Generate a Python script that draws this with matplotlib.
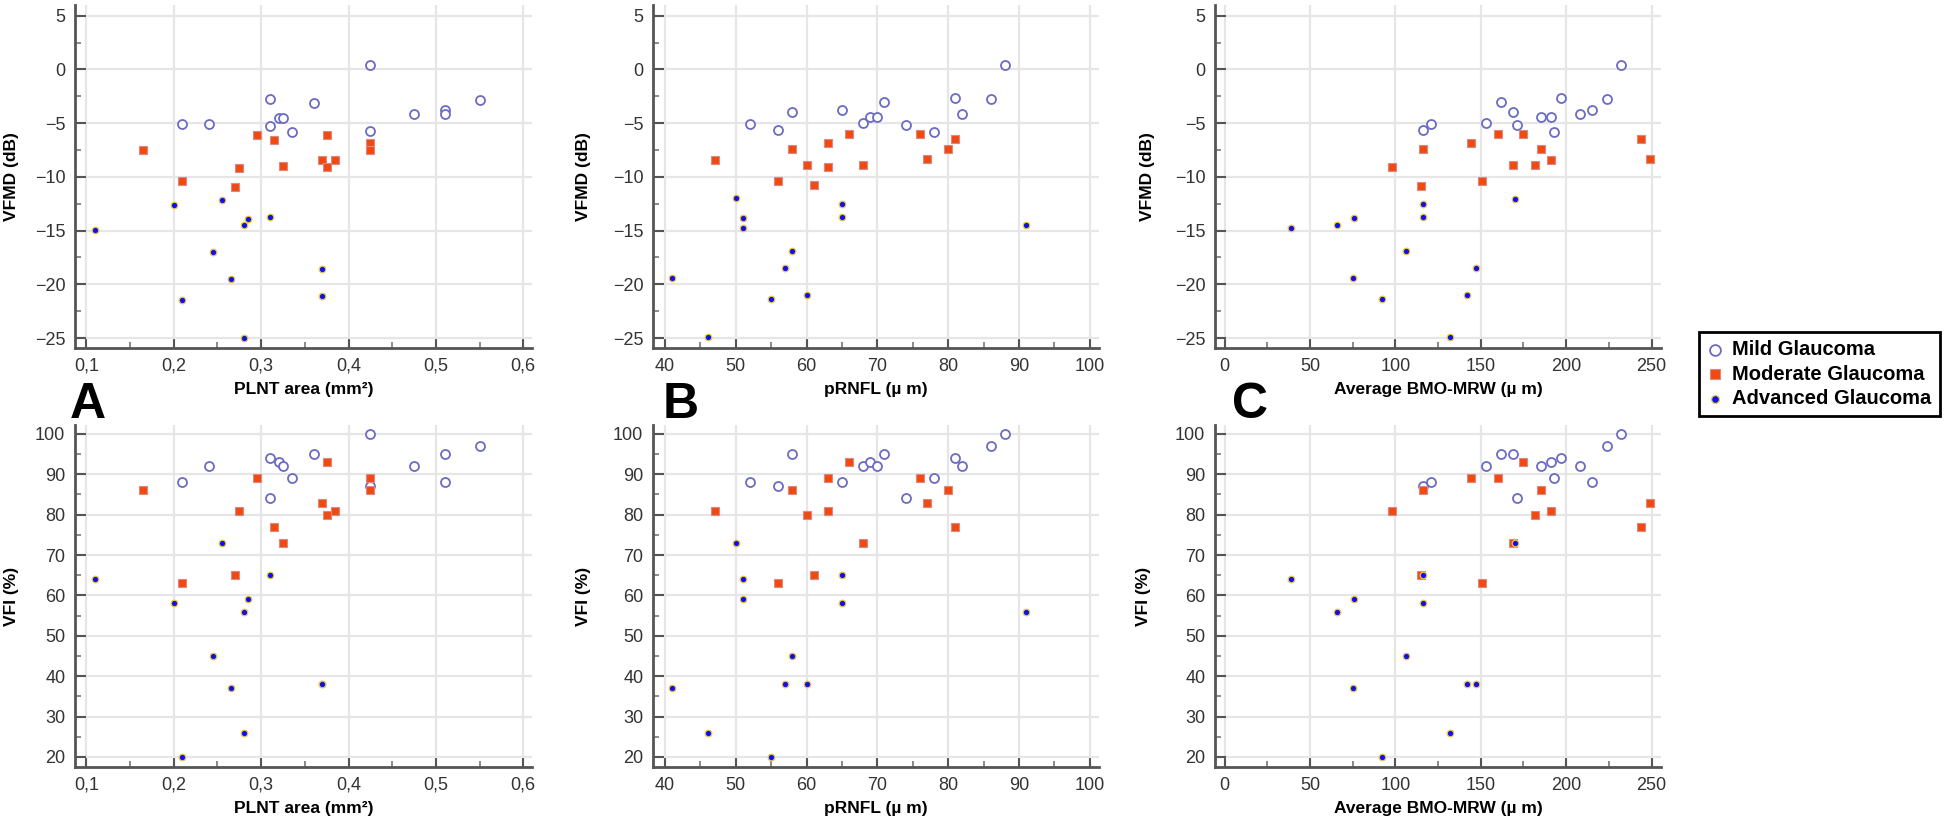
import numpy as np
import matplotlib
matplotlib.use("Agg")
import matplotlib.pyplot as plt
from matplotlib.ticker import MultipleLocator, AutoMinorLocator, FuncFormatter

plt.rcParams['font.family'] = ['Liberation Sans', 'DejaVu Sans']

# ---- data ----
# A: PLNT area (mm2)
plnt_mild = [0.21, 0.24, 0.31, 0.31, 0.32, 0.325, 0.335, 0.36, 0.425, 0.425, 0.475, 0.51, 0.51, 0.55]
plnt_mod = [0.165, 0.21, 0.27, 0.275, 0.295, 0.315, 0.325, 0.37, 0.375, 0.375, 0.385, 0.425, 0.425]
plnt_adv = [0.11, 0.2, 0.21, 0.245, 0.255, 0.265, 0.28, 0.285, 0.28, 0.31, 0.37, 0.37]
plnt_vfmd_mild = [-5.1, -5.05, -2.76, -5.24, -4.49, -4.49, -5.86, -3.1, 0.4, -5.73, -4.18, -3.78, -4.15, -2.85]
plnt_vfmd_mod = [-7.5, -10.4, -10.9, -9.2, -6.07, -6.57, -8.95, -8.43, -6.07, -9.05, -8.46, -6.8, -7.5]
plnt_vfmd_adv = [-14.9, -12.64, -21.47, -17.0, -12.14, -19.5, -14.5, -13.9, -25.0, -13.75, -18.6, -21.07]
plnt_vfi_mild = [88, 92, 94, 84, 93, 92, 89, 95, 100, 87, 92, 95, 88, 97]
plnt_vfi_mod = [86, 63, 65, 81, 89, 77, 73, 83, 93, 80, 81, 89, 86]
plnt_vfi_adv = [64, 58, 20, 45, 73, 37, 56, 59, 26, 65, 38, 38]

# B: pRNFL (um)
rnfl_mild = [52, 56, 58, 65, 68, 69, 70, 71, 74, 78, 81, 82, 86, 88]
rnfl_mod = [47, 56, 58, 60, 61, 63, 63, 66, 68, 76, 77, 80, 81]
rnfl_adv = [41, 46, 50, 51, 51, 55, 57, 58, 60, 65, 65, 91]
rnfl_vfmd_mild = [-5.1, -5.66, -3.99, -3.73, -5.03, -4.4, -4.4, -3.0, -5.16, -5.82, -2.69, -4.15, -2.78, 0.44]
rnfl_vfmd_mod = [-8.39, -10.35, -7.4, -8.92, -10.8, -6.87, -9.05, -6.0, -8.86, -6.0, -8.3, -7.4, -6.49]
rnfl_vfmd_adv = [-19.4, -24.9, -12.0, -14.8, -13.8, -21.36, -18.5, -16.9, -21.0, -12.5, -13.7, -14.5]
rnfl_vfi_mild = [88, 87, 95, 88, 92, 93, 92, 95, 84, 89, 94, 92, 97, 100]
rnfl_vfi_mod = [81, 63, 86, 80, 65, 89, 81, 93, 73, 89, 83, 86, 77]
rnfl_vfi_adv = [37, 26, 73, 64, 59, 20, 38, 45, 38, 65, 58, 56]

# C: average BMO-MRW (um)
mrw_mild = [116, 121, 153, 162, 169, 171, 185, 191, 193, 197, 208, 215, 224, 232]
mrw_mod = [98, 116, 115, 144, 151, 160, 169, 175, 182, 185, 191, 244, 249]
mrw_adv = [39, 66, 76, 75, 92, 106, 116, 116, 132, 142, 147, 170]
mrw_vfmd_mild = [-5.66, -5.1, -5.0, -3.0, -3.99, -5.16, -4.4, -4.4, -5.82, -2.69, -4.15, -3.73, -2.78, 0.44]
mrw_vfmd_mod = [-9.05, -7.44, -10.82, -6.87, -10.35, -6.0, -8.86, -6.0, -8.92, -7.44, -8.39, -6.52, -8.29]
mrw_vfmd_adv = [-14.8, -14.5, -13.8, -19.4, -21.4, -16.9, -12.5, -13.7, -24.9, -21.0, -18.5, -12.06]
mrw_vfi_mild = [87, 88, 92, 95, 95, 84, 92, 93, 89, 94, 92, 88, 97, 100]
mrw_vfi_mod = [81, 86, 65, 89, 63, 89, 73, 93, 80, 86, 81, 77, 83]
mrw_vfi_adv = [64, 56, 59, 37, 20, 45, 65, 58, 26, 38, 38, 73]

group_labels = ['Mild Glaucoma', 'Moderate Glaucoma', 'Advanced Glaucoma']
xlabels = ['PLNT area (mm²)', 'pRNFL (µ m)', 'Average BMO-MRW (µ m)']
ylabels = ['VFMD (dB)', 'VFI (%)']
panel_letters = ['A', 'B', 'C']

columns = [
    (plnt_mild, plnt_mod, plnt_adv,
     (plnt_vfmd_mild, plnt_vfmd_mod, plnt_vfmd_adv),
     (plnt_vfi_mild, plnt_vfi_mod, plnt_vfi_adv)),
    (rnfl_mild, rnfl_mod, rnfl_adv,
     (rnfl_vfmd_mild, rnfl_vfmd_mod, rnfl_vfmd_adv),
     (rnfl_vfi_mild, rnfl_vfi_mod, rnfl_vfi_adv)),
    (mrw_mild, mrw_mod, mrw_adv,
     (mrw_vfmd_mild, mrw_vfmd_mod, mrw_vfmd_adv),
     (mrw_vfi_mild, mrw_vfi_mod, mrw_vfi_adv)),
]

# ---- layout (pixel positions from the reference) ----
W, H = 1946, 825
col_px = [(75, 532), (653, 1099), (1215, 1661)]
row_px = [(5, 348), (425, 767)]
xlims = [(0.087, 0.61), (38.3, 101.3), (-5.6, 255.5)]
xsteps = [0.1, 10, 50]
xticks0 = [0.1, 40, 0]
ylims = [(-25.93, 6.0), (17.5, 102.2)]
ysteps = [5, 10]
ylab_x = [[19, 591, 1155], [19, 591, 1151]]

styles = [
    dict(marker='o', s=42, facecolors='white', edgecolors='#6b6bc4', linewidths=1.3),
    dict(marker='s', s=38, facecolors='#f24a0e', edgecolors='#d88a8a', linewidths=0.8),
    dict(marker='o', s=22, facecolors='#0a14e6', edgecolors='#f0c24a', linewidths=0.9),
]

fig = plt.figure(figsize=(W / 100, H / 100), dpi=100)
handles = []

for r in range(2):
    for c in range(3):
        l, rr = col_px[c]
        t, b = row_px[r]
        ax = fig.add_axes([l / W, 1 - b / H, (rr - l) / W, (b - t) / H])
        xm, xo, xa, vfmd, vfi = columns[c]
        ys = vfmd if r == 0 else vfi
        hs = []
        for xs, yv, st, lab in zip((xm, xo, xa), ys, styles, group_labels):
            hs.append(ax.scatter(xs, yv, label=lab, zorder=3, **st))
        if r == 0 and c == 0:
            handles = hs

        ax.set_xlim(*xlims[c])
        ax.set_ylim(*ylims[r])
        x0 = xticks0[c]
        ax.set_xticks(np.arange(x0, xlims[c][1] + 1e-9, xsteps[c]))
        ax.yaxis.set_major_locator(MultipleLocator(ysteps[r]))
        ax.xaxis.set_minor_locator(AutoMinorLocator(2))
        ax.yaxis.set_minor_locator(AutoMinorLocator(2))
        if c == 0:
            ax.xaxis.set_major_formatter(FuncFormatter(lambda v, p: f"{v:.1f}".replace('.', ',')))

        for s in ['top', 'right']:
            ax.spines[s].set_visible(False)
        for s in ['left', 'bottom']:
            ax.spines[s].set_color('#555555')
            ax.spines[s].set_linewidth(2)

        ax.tick_params(which='major', direction='in', length=8, width=1.5, color='#555555',
                       labelsize=13, labelcolor='#333333', pad=7)
        ax.tick_params(which='minor', direction='in', length=4, width=1.2, color='#777777')
        ax.grid(True, which='major', color='#e6e6e6', lw=1.6)
        ax.set_axisbelow(True)

        ax.set_xlabel(xlabels[c], fontsize=12.5, fontweight='bold', labelpad=5)
        ax.set_ylabel(ylabels[r], fontsize=12.5, fontweight='bold')
        ax.yaxis.set_label_coords((ylab_x[r][c] - l) / (rr - l), 0.5)

# panel letters
for c, letter_x in enumerate([70, 663, 1232]):
    fig.text(letter_x / W, 1 - 418 / H, panel_letters[c], fontsize=36, fontweight='bold',
             ha='left', va='baseline')

leg = fig.legend(handles, group_labels, loc='upper left',
                 bbox_to_anchor=(1699 / W, 1 - 332 / H), borderaxespad=0,
                 frameon=True, fancybox=False, framealpha=1, edgecolor='black',
                 prop={'size': 14.5, 'weight': 'bold'}, borderpad=0.4,
                 handlelength=0.8, handletextpad=0.45, labelspacing=0.28, markerscale=1.2)
leg.get_frame().set_linewidth(2)

fig.savefig('out.png', dpi=100)
